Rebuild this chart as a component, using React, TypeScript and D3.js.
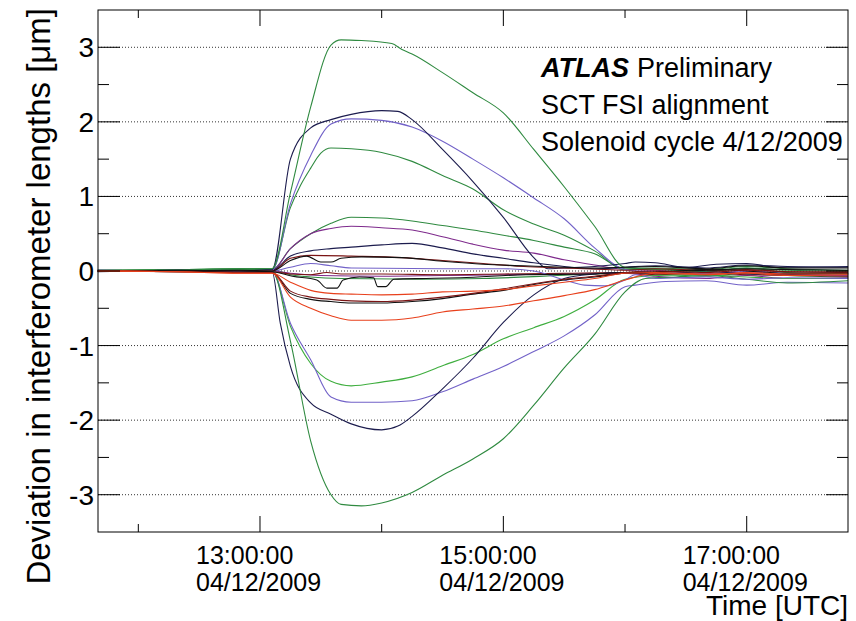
import React from "react";
import * as d3 from "d3";

type Pt = [string, number];

// ---- tick labels / axis values ----
const yTicks = [-3, -2, -1, 0, 1, 2, 3];
const yMinor = [-3, -2.5, -2, -1.5, -1, -0.5, 0, 0.5, 1, 1.5, 2, 2.5, 3];
const xMajorTimes = ["13:00", "15:00", "17:00"];
const xMinorTimes = ["12:00", "14:00", "16:00"];
const dateLabel = "04/12/2009";
const textLines = ["SCT FSI alignment", "Solenoid cycle 4/12/2009"];

// ---- series (time HH:MM, deviation in µm) ----
const G1: Pt[] = [["11:40", 0.0], ["12:20", 0.01], ["12:50", 0.03], ["13:06", 0.03], ["13:15", 1.05], ["13:25", 2.2], ["13:35", 3.03], ["13:40", 3.1], ["13:50", 3.09], ["14:05", 3.05], ["14:10", 2.97], ["14:15", 2.91], ["14:30", 2.66], ["14:45", 2.39], ["15:00", 2.12], ["15:15", 1.63], ["15:30", 1.13], ["15:45", 0.6], ["16:00", 0.05], ["16:15", 0.03], ["16:40", 0.0], ["17:00", 0.04], ["17:20", -0.02], ["17:50", -0.04]];
const G5: Pt[] = [["11:40", 0.0], ["12:20", -0.01], ["12:50", 0.02], ["13:06", 0.0], ["13:15", -0.94], ["13:25", -2.28], ["13:35", -3.0], ["13:40", -3.13], ["13:50", -3.15], ["14:00", -3.11], ["14:15", -2.97], ["14:30", -2.74], ["14:45", -2.52], ["15:00", -2.25], ["15:15", -1.8], ["15:30", -1.3], ["15:45", -0.85], ["16:00", -0.28], ["16:10", -0.1], ["16:25", -0.08], ["16:40", -0.06], ["17:00", -0.11], ["17:20", -0.16], ["17:50", -0.13]];
const N1: Pt[] = [["11:40", 0.01], ["12:20", 0.0], ["12:50", 0.02], ["13:06", 0.02], ["13:15", 1.5], ["13:25", 1.92], ["13:35", 2.03], ["13:45", 2.1], ["14:00", 2.15], ["14:08", 2.14], ["14:15", 2.03], ["14:30", 1.63], ["14:45", 1.2], ["15:00", 0.72], ["15:15", 0.18], ["15:22", 0.03], ["15:30", 0.04], ["15:45", 0.06], ["16:00", 0.1], ["16:05", 0.12], ["16:15", 0.11], ["16:30", 0.05], ["16:45", 0.09], ["17:00", 0.1], ["17:15", 0.05], ["17:50", 0.06]];
const N2: Pt[] = [["11:40", -0.01], ["12:20", 0.01], ["12:50", 0.0], ["13:06", -0.01], ["13:10", -0.7], ["13:15", -1.28], ["13:25", -1.77], ["13:35", -1.92], ["13:45", -2.05], ["14:00", -2.13], ["14:08", -2.08], ["14:15", -1.95], ["14:30", -1.58], ["14:45", -1.17], ["15:00", -0.69], ["15:15", -0.32], ["15:30", -0.1], ["15:45", -0.04], ["16:00", -0.02], ["16:20", -0.03], ["16:40", -0.01], ["17:10", -0.05], ["17:50", -0.03]];
const P1: Pt[] = [["11:40", 0.0], ["12:20", 0.01], ["12:50", 0.0], ["13:06", 0.01], ["13:15", 0.9], ["13:25", 1.55], ["13:35", 1.97], ["13:45", 2.04], ["14:00", 2.02], ["14:15", 1.93], ["14:30", 1.74], ["14:45", 1.5], ["15:00", 1.25], ["15:15", 0.98], ["15:30", 0.7], ["15:45", 0.31], ["16:00", 0.02], ["16:15", -0.02], ["16:40", -0.04], ["17:00", 0.0], ["17:20", -0.03], ["17:50", -0.05]];
const P3: Pt[] = [["11:40", 0.0], ["12:20", -0.01], ["12:50", -0.01], ["13:06", -0.01], ["13:15", -0.7], ["13:25", -1.19], ["13:35", -1.69], ["13:45", -1.76], ["14:00", -1.76], ["14:15", -1.74], ["14:30", -1.62], ["14:45", -1.45], ["15:00", -1.28], ["15:15", -1.08], ["15:30", -0.87], ["15:45", -0.59], ["16:00", -0.21], ["16:05", -0.19], ["16:20", -0.14], ["16:40", -0.13], ["17:00", -0.19], ["17:20", -0.15], ["17:50", -0.16]];
const G2: Pt[] = [["11:40", 0.01], ["12:20", 0.02], ["12:50", 0.03], ["13:06", 0.03], ["13:15", 0.85], ["13:20", 1.15], ["13:25", 1.38], ["13:30", 1.58], ["13:35", 1.65], ["13:45", 1.64], ["14:00", 1.59], ["14:15", 1.47], ["14:30", 1.28], ["14:45", 1.1], ["15:00", 0.82], ["15:15", 0.63], ["15:30", 0.48], ["15:45", 0.27], ["16:00", 0.02], ["16:15", 0.02], ["16:40", -0.01], ["17:00", 0.04], ["17:20", 0.01], ["17:50", 0.0]];
const G4: Pt[] = [["11:40", 0.0], ["12:20", 0.0], ["12:50", 0.01], ["13:06", 0.0], ["13:15", -0.74], ["13:25", -1.24], ["13:35", -1.48], ["13:45", -1.54], ["14:00", -1.49], ["14:15", -1.42], ["14:30", -1.27], ["14:45", -1.12], ["15:00", -0.91], ["15:15", -0.76], ["15:30", -0.61], ["15:45", -0.39], ["16:00", -0.11], ["16:15", -0.06], ["16:40", -0.05], ["17:00", -0.08], ["17:20", -0.1], ["17:50", -0.1]];
const G3: Pt[] = [["11:40", 0.01], ["12:20", 0.0], ["12:50", 0.02], ["13:06", 0.02], ["13:15", 0.3], ["13:25", 0.5], ["13:35", 0.64], ["13:45", 0.72], ["14:00", 0.71], ["14:15", 0.67], ["14:30", 0.61], ["14:45", 0.55], ["15:00", 0.48], ["15:15", 0.41], ["15:30", 0.32], ["15:45", 0.23], ["16:00", 0.03], ["16:15", 0.04], ["16:40", 0.02], ["17:00", 0.06], ["17:20", 0.03], ["17:50", 0.01]];
const P2: Pt[] = [["11:40", 0.0], ["12:20", 0.01], ["12:50", 0.01], ["13:06", 0.01], ["13:15", 0.3], ["13:25", 0.5], ["13:35", 0.57], ["13:45", 0.6], ["14:00", 0.58], ["14:15", 0.55], ["14:30", 0.46], ["14:45", 0.36], ["15:00", 0.28], ["15:15", 0.24], ["15:30", 0.15], ["15:45", 0.08], ["16:00", 0.02], ["16:15", 0.01], ["16:40", -0.04], ["17:00", -0.01], ["17:20", -0.05], ["17:50", -0.06]];
const N3: Pt[] = [["11:40", 0.0], ["12:20", 0.0], ["12:50", 0.01], ["13:06", 0.01], ["13:15", 0.2], ["13:25", 0.27], ["13:35", 0.3], ["13:45", 0.32], ["14:00", 0.35], ["14:15", 0.37], ["14:30", 0.31], ["14:45", 0.23], ["15:00", 0.17], ["15:15", 0.11], ["15:30", 0.06], ["15:45", 0.03], ["16:00", 0.05], ["16:15", 0.07], ["16:40", 0.04], ["17:00", 0.08], ["17:20", 0.06], ["17:50", 0.05]];
const DR1: Pt[] = [["11:40", 0.0], ["12:20", -0.01], ["12:50", 0.0], ["13:06", 0.0], ["13:15", 0.17], ["13:25", 0.21], ["13:45", 0.2], ["14:10", 0.18], ["14:30", 0.14], ["14:50", 0.1], ["15:10", 0.06], ["15:30", 0.04], ["15:50", 0.02], ["16:00", 0.01], ["16:15", 0.03], ["16:40", 0.01], ["17:00", 0.02], ["17:20", -0.01], ["17:50", -0.02]];
const BK1: Pt[] = [["11:40", 0.0], ["12:20", 0.0], ["12:50", 0.01], ["13:06", 0.0], ["13:15", 0.14], ["13:23", 0.2], ["13:30", 0.12], ["13:35", 0.12], ["13:40", 0.17], ["13:50", 0.19], ["14:10", 0.18], ["14:30", 0.13], ["14:50", 0.09], ["15:10", 0.07], ["15:30", 0.05], ["15:45", 0.04], ["16:00", 0.05], ["16:15", 0.06], ["16:40", 0.03], ["17:00", 0.07], ["17:20", 0.04], ["17:50", 0.04]];
const P4: Pt[] = [["11:40", 0.01], ["12:20", 0.0], ["12:50", 0.0], ["13:06", 0.0], ["13:15", 0.05], ["13:25", 0.1], ["13:35", 0.07], ["13:45", 0.04], ["14:30", 0.03], ["15:00", 0.03], ["15:15", 0.0], ["15:30", -0.12], ["15:40", -0.19], ["15:50", -0.2], ["16:00", -0.12], ["16:05", -0.05], ["16:15", -0.1], ["16:40", -0.08], ["17:00", -0.11], ["17:20", -0.09], ["17:50", -0.1]];
const BK2: Pt[] = [["11:40", 0.0], ["12:20", 0.01], ["12:50", 0.0], ["13:06", -0.01], ["13:16", -0.07], ["13:28", -0.12], ["13:33", -0.23], ["13:38", -0.23], ["13:41", -0.12], ["13:49", -0.08], ["13:56", -0.09], ["13:58", -0.21], ["14:02", -0.21], ["14:06", -0.11], ["14:22", -0.1], ["14:39", -0.09], ["15:11", -0.05], ["15:44", -0.04], ["16:00", -0.02], ["16:15", -0.02], ["16:40", 0.02], ["17:00", 0.0], ["17:20", -0.03], ["17:50", -0.03]];
const DR3: Pt[] = [["11:40", 0.0], ["12:20", 0.0], ["12:50", -0.01], ["13:06", -0.01], ["13:15", -0.04], ["13:25", -0.05], ["13:33", -0.02], ["13:40", -0.04], ["14:00", -0.04], ["14:30", -0.05], ["15:00", -0.04], ["15:30", -0.03], ["16:00", -0.02], ["16:15", -0.05], ["16:40", -0.03], ["17:00", -0.05], ["17:20", -0.06], ["17:50", -0.07]];
const G6: Pt[] = [["11:40", 0.01], ["12:20", 0.02], ["12:50", 0.03], ["13:06", 0.02], ["13:15", -0.05], ["13:25", -0.08], ["13:40", -0.1], ["14:20", -0.11], ["14:50", -0.1], ["15:20", -0.07], ["15:45", -0.04], ["16:00", -0.03], ["16:15", -0.04], ["16:40", -0.07], ["17:00", -0.03], ["17:20", -0.06], ["17:50", -0.08]];
const P5: Pt[] = [["11:40", 0.0], ["12:20", 0.01], ["12:50", 0.0], ["13:06", 0.0], ["13:15", -0.03], ["13:30", -0.06], ["14:00", -0.07], ["14:30", -0.06], ["15:00", -0.05], ["15:30", -0.04], ["16:00", -0.03], ["16:15", -0.07], ["16:40", -0.1], ["17:00", -0.06], ["17:20", -0.1], ["17:50", -0.09]];
const R1: Pt[] = [["11:40", 0.0], ["12:20", -0.01], ["12:50", -0.03], ["13:06", -0.03], ["13:15", -0.15], ["13:25", -0.26], ["13:35", -0.3], ["13:45", -0.31], ["14:00", -0.32], ["14:15", -0.31], ["14:30", -0.28], ["14:45", -0.27], ["15:00", -0.25], ["15:15", -0.2], ["15:30", -0.15], ["15:45", -0.1], ["16:00", -0.03], ["16:15", -0.02], ["16:40", -0.04], ["17:00", -0.03], ["17:20", -0.06], ["17:50", -0.05]];
const B2: Pt[] = [["11:40", 0.0], ["12:20", 0.0], ["12:50", -0.02], ["13:06", -0.02], ["13:15", -0.3], ["13:25", -0.38], ["13:35", -0.41], ["13:45", -0.43], ["14:00", -0.43], ["14:15", -0.41], ["14:30", -0.37], ["14:45", -0.31], ["15:00", -0.26], ["15:15", -0.18], ["15:30", -0.12], ["15:45", -0.08], ["16:00", -0.03], ["16:15", -0.01], ["16:40", 0.01], ["17:00", 0.03], ["17:20", 0.02], ["17:50", 0.01]];
const DR2: Pt[] = [["11:40", 0.0], ["12:20", -0.01], ["12:50", -0.02], ["13:06", -0.02], ["13:15", -0.27], ["13:25", -0.35], ["13:35", -0.38], ["13:45", -0.4], ["14:00", -0.41], ["14:15", -0.39], ["14:30", -0.35], ["14:45", -0.3], ["15:00", -0.24], ["15:15", -0.17], ["15:30", -0.11], ["15:45", -0.07], ["16:00", -0.02], ["16:15", 0.0], ["16:40", -0.02], ["17:00", 0.01], ["17:20", -0.01], ["17:50", -0.01]];
const R2: Pt[] = [["11:40", 0.0], ["12:20", -0.01], ["12:50", -0.03], ["13:06", -0.03], ["13:15", -0.35], ["13:25", -0.5], ["13:35", -0.6], ["13:45", -0.66], ["14:00", -0.66], ["14:15", -0.63], ["14:30", -0.55], ["14:45", -0.51], ["15:00", -0.47], ["15:15", -0.4], ["15:30", -0.33], ["15:45", -0.25], ["16:00", -0.12], ["16:15", -0.03], ["16:40", -0.05], ["17:00", -0.02], ["17:20", -0.04], ["17:50", -0.04]];

const GREEN = "#2f8a40";
const LGREEN = "#3fae3f";
const NAVY = "#1c1c4e";
const PURPLE = "#7262c8";
const MAGENTA = "#7e2a8c";
const BLACK = "#111111";
const DRED = "#7a1414";
const RED = "#e8401c";

const SERIES: { data: Pt[]; color: string }[] = [
  { data: G6, color: GREEN },
  { data: P5, color: MAGENTA },
  { data: DR3, color: DRED },
  { data: G3, color: GREEN },
  { data: P2, color: MAGENTA },
  { data: N3, color: NAVY },
  { data: G2, color: GREEN },
  { data: G4, color: LGREEN },
  { data: P1, color: PURPLE },
  { data: P3, color: PURPLE },
  { data: N1, color: NAVY },
  { data: N2, color: NAVY },
  { data: G1, color: GREEN },
  { data: G5, color: GREEN },
  { data: P4, color: PURPLE },
  { data: DR1, color: DRED },
  { data: BK1, color: BLACK },
  { data: BK2, color: BLACK },
  { data: B2, color: BLACK },
  { data: DR2, color: DRED },
  { data: R1, color: RED },
  { data: R2, color: RED },
];

const FONT = "'Liberation Sans', Arial, Helvetica, sans-serif";

function t(s: string, sec = 0): Date {
  const [h, m] = s.split(":").map(Number);
  return new Date(2009, 11, 4, h, m, sec);
}

export default function App() {
  const W = 856, H = 621;
  const L = 98, R = 848, T = 10, B = 532;
  const x = d3.scaleTime().domain([t("11:40", 7), t("17:49", 57)]).range([L, R]);
  const y = d3.scaleLinear().domain([-3.5, 3.5]).range([B, T]);
  const line = d3
    .line<Pt>()
    .x((d) => x(t(d[0])))
    .y((d) => y(d[1]))
    .curve(d3.curveMonotoneX);

  return (
    <svg width={W} height={H} style={{ position: "absolute", left: 0, top: 0, background: "#fff" }} fontFamily={FONT}>
      <rect x={0} y={0} width={W} height={H} fill="#fff" />
      {/* grid */}
      {yTicks.map((v) => (
        <line key={"g" + v} x1={L} x2={R} y1={y(v)} y2={y(v)} stroke="#333" strokeWidth={1} strokeDasharray="1 2" />
      ))}
      {/* series */}
      <g fill="none" strokeWidth={1.1} strokeLinejoin="round">
        {SERIES.map((s, i) => (
          <path key={i} d={line(s.data) || ""} stroke={s.color} />
        ))}
      </g>
      {/* frame */}
      <rect x={L} y={T} width={R - L} height={B - T} fill="none" stroke="#000" strokeWidth={1} />
      {/* y ticks */}
      {yMinor.map((v) => {
        const major = Number.isInteger(v);
        const len = major ? 22 : 11;
        return (
          <g key={"yt" + v} stroke="#000" strokeWidth={1}>
            <line x1={L} x2={L + len} y1={y(v)} y2={y(v)} />
            <line x1={R - len} x2={R} y1={y(v)} y2={y(v)} />
          </g>
        );
      })}
      {/* x ticks */}
      {xMajorTimes.map((s) => (
        <g key={"xt" + s} stroke="#000" strokeWidth={1}>
          <line x1={x(t(s))} x2={x(t(s))} y1={B} y2={B - 16} />
          <line x1={x(t(s))} x2={x(t(s))} y1={T} y2={T + 16} />
        </g>
      ))}
      {xMinorTimes.map((s) => (
        <g key={"xm" + s} stroke="#000" strokeWidth={1}>
          <line x1={x(t(s))} x2={x(t(s))} y1={B} y2={B - 8} />
          <line x1={x(t(s))} x2={x(t(s))} y1={T} y2={T + 8} />
        </g>
      ))}
      {/* y labels */}
      {yTicks.map((v) => (
        <text key={"yl" + v} x={94} y={y(v) + 10} textAnchor="end" fontSize={28} fill="#000">
          {v}
        </text>
      ))}
      {/* x labels */}
      {xMajorTimes.map((s) => {
        const cx = x(t(s));
        return (
          <g key={"xl" + s}>
            <text x={cx - 64} y={564} fontSize={25} fill="#000">{s + ":00"}</text>
            <text x={cx - 64} y={591} fontSize={25} fill="#000">{dateLabel}</text>
          </g>
        );
      })}
      {/* axis titles */}
      <text x={R} y={615} textAnchor="end" fontSize={28} fill="#000">
        Time [UTC]
      </text>
      <text transform="translate(50,8) rotate(-90)" textAnchor="end" fontSize={33} fill="#000">
        Deviation in interferometer lengths [μm]
      </text>
      {/* ATLAS label */}
      <text x={541} y={77} fontSize={27} fill="#000">
        <tspan fontWeight="bold" fontStyle="italic">ATLAS</tspan>
        <tspan x={637}>Preliminary</tspan>
      </text>
      {textLines.map((s, i) => (
        <text key={s} x={541} y={114 + i * 36.5} fontSize={27} fill="#000">
          {s}
        </text>
      ))}
    </svg>
  );
}
